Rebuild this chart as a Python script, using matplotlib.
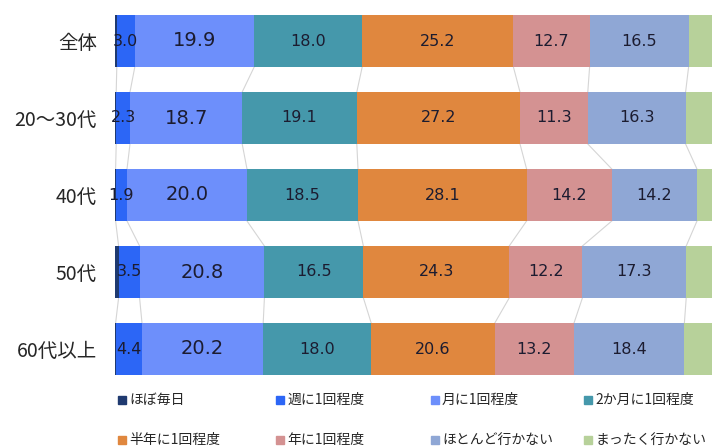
import numpy as np
import matplotlib
matplotlib.use("Agg")
import matplotlib.pyplot as plt
from matplotlib.patches import Rectangle

plt.rcParams['font.family'] = ['Noto Sans CJK JP', 'DejaVu Sans']

# data (percent)
groups = ["全体", "20～30代", "40代", "50代", "60代以上"]
series = ["ほぼ毎日", "週に1回程度", "月に1回程度", "2か月に1回程度",
          "半年に1回程度", "年に1回程度", "ほとんど行かない", "まったく行かない"]
almost_daily = [0.3, 0.2, 0.1, 0.6, 0.1]
weekly = [3.0, 2.3, 1.9, 3.5, 4.4]
monthly = [19.9, 18.7, 20.0, 20.8, 20.2]
bimonthly = [18.0, 19.1, 18.5, 16.5, 18.0]
half_year = [25.2, 27.2, 28.1, 24.3, 20.6]
yearly = [12.7, 11.3, 14.2, 12.2, 13.2]
rarely = [16.5, 16.3, 14.2, 17.3, 18.4]
never = [4.4, 4.9, 3.0, 4.8, 5.1]

colors = ['#1f3a70', '#2c66f6', '#6d8ffb', '#4598ab',
          '#e0873e', '#d49292', '#8fa7d5', '#b7d19a']
show_label = [False, True, True, True, True, True, True, False]
label_size = [10, 11.5, 14, 11.5, 11.5, 11.5, 11.5, 11.5]

data = np.array([almost_daily, weekly, monthly, bimonthly,
                 half_year, yearly, rarely, never])

fig = plt.figure(figsize=(7.12, 4.47), dpi=100)
ax = fig.add_axes([115 / 712, 1 - 387.5 / 447, 600 / 712, 385 / 447])

y = np.arange(len(groups))
h = 0.675
left = np.zeros(len(groups))
for i, s in enumerate(series):
    vals = data[i]
    ax.barh(y, vals, height=h, left=left, color=colors[i], label=s, zorder=2)
    if show_label[i]:
        for j, v in enumerate(vals):
            ax.text(left[j] + v / 2, y[j], f"{v:.1f}", ha='center', va='center',
                    fontsize=label_size[i], color='#1c1c30', zorder=3,
                    family='DejaVu Sans')
    left = left + vals
    # series lines between bars
    if i < len(series) - 1:
        for j in range(len(groups) - 1):
            ax.plot([left[j], left[j + 1]], [y[j] + h / 2, y[j + 1] - h / 2],
                    color='#d5d5d5', lw=0.8, zorder=1)

ax.set_xlim(0, 100)
ax.set_ylim(len(groups) - 0.5, -0.5)
ax.set_yticks(y)
ax.set_yticklabels(groups, fontsize=14, color='#262626')
ax.tick_params(axis='y', length=0, pad=13)
ax.set_xticks([])
for sp in ax.spines.values():
    sp.set_visible(False)

# legend laid out like the original (4 columns x 2 rows)
col_x = [118, 276, 431, 584]
row_y = [400, 440]
for k, s in enumerate(series):
    cx = col_x[k % 4]
    cy = row_y[k // 4]
    fig.patches.append(Rectangle((cx / 712, 1 - (cy + 4) / 447), 8 / 712, 8 / 447,
                                 transform=fig.transFigure, color=colors[k]))
    fig.text((cx + 11) / 712, 1 - cy / 447, s, fontsize=10, color='#262626',
             ha='left', va='center')

fig.savefig("out.png", dpi=100)
